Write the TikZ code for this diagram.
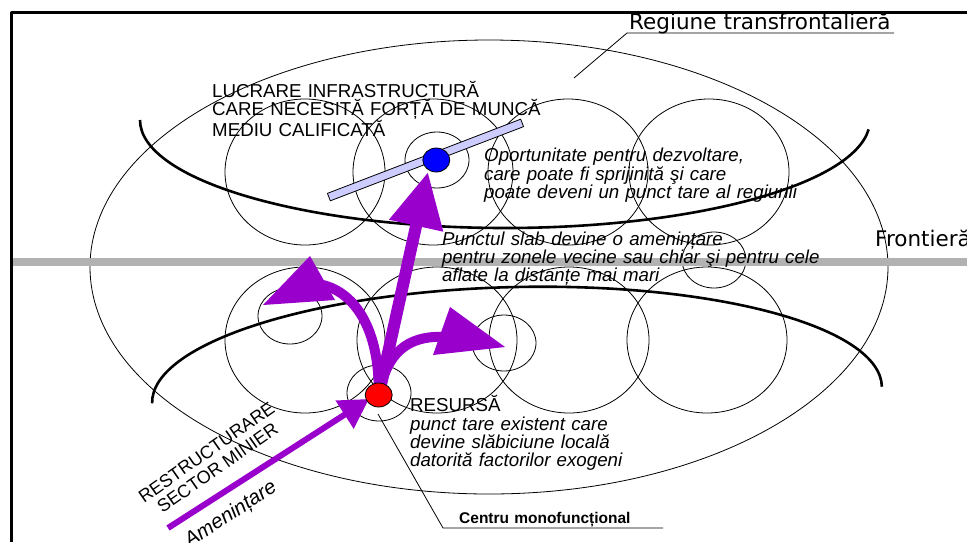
\documentclass[tikz,border=0pt]{standalone}
\usepackage{fontspec}
\setmainfont{Liberation Sans}
\newfontfamily\latfont{DejaVu Sans}
\usetikzlibrary{arrows.meta,shapes.geometric}

\definecolor{mov}{RGB}{153,0,204}
\definecolor{lavanda}{RGB}{204,204,255}
\definecolor{gri}{RGB}{178,178,178}

\tikzset{
  zona/.style={draw=black,line width=0.8pt},
  granita/.style={line width=2.6pt},
  fir/.style={line width=0.8pt},
  sageata/.style={draw=mov,line width=10pt,line cap=butt},
  varf/.style={fill=mov},
  punct/.style={ellipse,draw,line width=0.8pt,minimum width=27pt,minimum height=24pt,inner sep=0pt},
  txt/.style={inner sep=0pt,anchor=base west,text width=15cm,align=left},
  drept/.style={txt,font=\fontsize{18.7}{18.3}\selectfont},
  cursiv/.style={txt,font=\fontsize{18.7}{18.3}\selectfont\itshape},
}

\begin{document}
\begin{tikzpicture}[x=1pt,y=1pt,line join=round]
  \useasboundingbox (0,0) rectangle (967,-542);
  \fill[white] (0,0) rectangle (967,-542);
  % cadrul
  \draw[line width=2.5pt] (11.5,-542) -- (11.5,-12.5) -- (967,-12.5);
  % regiunea transfrontaliera si zonele
  \draw[zona] (489,-267) ellipse [x radius=399, y radius=227];
  \foreach \x/\y in {305/172,433/172,568/172,709/172,305/340,437/340,569/340,707/340}
    {\draw[zona] (\x,-\y) ellipse [x radius=80, y radius=73];}
  \foreach \x/\y in {437/160,714/260,290/316,379/393,504/343}
    {\draw[zona] (\x,-\y) ellipse [x radius=32, y radius=28];}
  % granitele
  \draw[granita] (140,-120) arc[start angle=180,end angle=355,x radius=365,y radius=108];
  \draw[granita,rotate around={1.3:(517,-395)}] (152,-395) arc[start angle=180,end angle=0,x radius=365,y radius=108];
  \draw[gri,line width=8pt] (13,-262) -- (967,-262);

  % etichete
  \node[txt,font=\latfont\fontsize{21.5}{22}\selectfont] (regiune) at (629,-29.5) {Regiune transfrontalieră};
  \node[txt,font=\latfont\fontsize{21.5}{22}\selectfont] (frontiera) at (875,-246.7) {Frontieră};
  \draw[fir] (574,-78) coordinate (r0) -- (627,-33) coordinate (r1) -- (894,-33);
  \node[drept] (lucrare) at (212,-97.3) {LUCRARE INFRASTRUCTURĂ\\CARE NECESITĂ FORȚĂ DE MUNCĂ\\MEDIU CALIFICATĂ};
  \node[cursiv] (oport) at (484,-161.7) {Oportunitate pentru dezvoltare,\\care poate fi sprijinită şi care\\poate deveni un punct tare al regiunii};
  \node[cursiv] (slab) at (442,-245) {Punctul slab devine o amenințare\\pentru zonele vecine sau chiar şi pentru cele\\aflate la distanțe mai mari};
  \node[drept] (resurs) at (410,-411.7) {RESURSĂ\\\itshape punct tare existent care\\devine slăbiciune locală\\datorită factorilor exogeni};
  \node[txt,font=\fontsize{15.5}{17}\selectfont\bfseries] (centru) at (459,-523.3) {Centru monofuncțional};
  \node[rotate=35,align=center,inner sep=0pt,font=\fontsize{18}{19}\selectfont] (restr) at (212,-460) {RESTRUCTURARE\\SECTOR MINIER};
  \node[rotate=33,anchor=base east,inner sep=0pt,font=\fontsize{20.5}{21}\selectfont\itshape] (amen) at (278,-490.5) {Amenințare};

  % bara infrastructurii
  \node[draw,fill=lavanda,line width=0.8pt,minimum width=207pt,minimum height=8pt,inner sep=0pt,rotate=21] (bara) at (425.5,-160) {};

  % sagetile
  \coordinate (R) at (378.7,-395);
  \coordinate (B) at (436.3,-160);
  \coordinate (A0) at (168,-528);
  \coordinate (V0) at (369,-399);
  \coordinate (V1) at (428,-172);
  \coordinate (S1) at (318,-284);
  \coordinate (S2) at (448,-337);
  \draw[sageata,line width=6pt,-{Triangle[length=29pt,width=32pt]}] (A0) -- (V0);
  \draw[sageata,line width=12pt,-{Triangle[length=55pt,width=52pt]}] (R) -- (V1);
  \draw[sageata] (R) .. controls (380,-330) and (355,-290) .. (S1);
  \draw[sageata] (R) .. controls (388,-345) and (415,-335) .. (S2);
  \fill[varf] (310,-256) -- (263,-305) -- (335,-300) -- cycle;
  \fill[varf] (505,-347) -- (450,-307) -- (433,-355) -- cycle;

  % punctele
  \node[punct,fill=blue] (oportunitate) at (B) {};
  \node[punct,fill=red] (resursa) at (R) {};
  \draw[fir] (378,-414) coordinate (c0) -- (443,-528) coordinate (c1) -- (663,-528);
\end{tikzpicture}
\end{document}
